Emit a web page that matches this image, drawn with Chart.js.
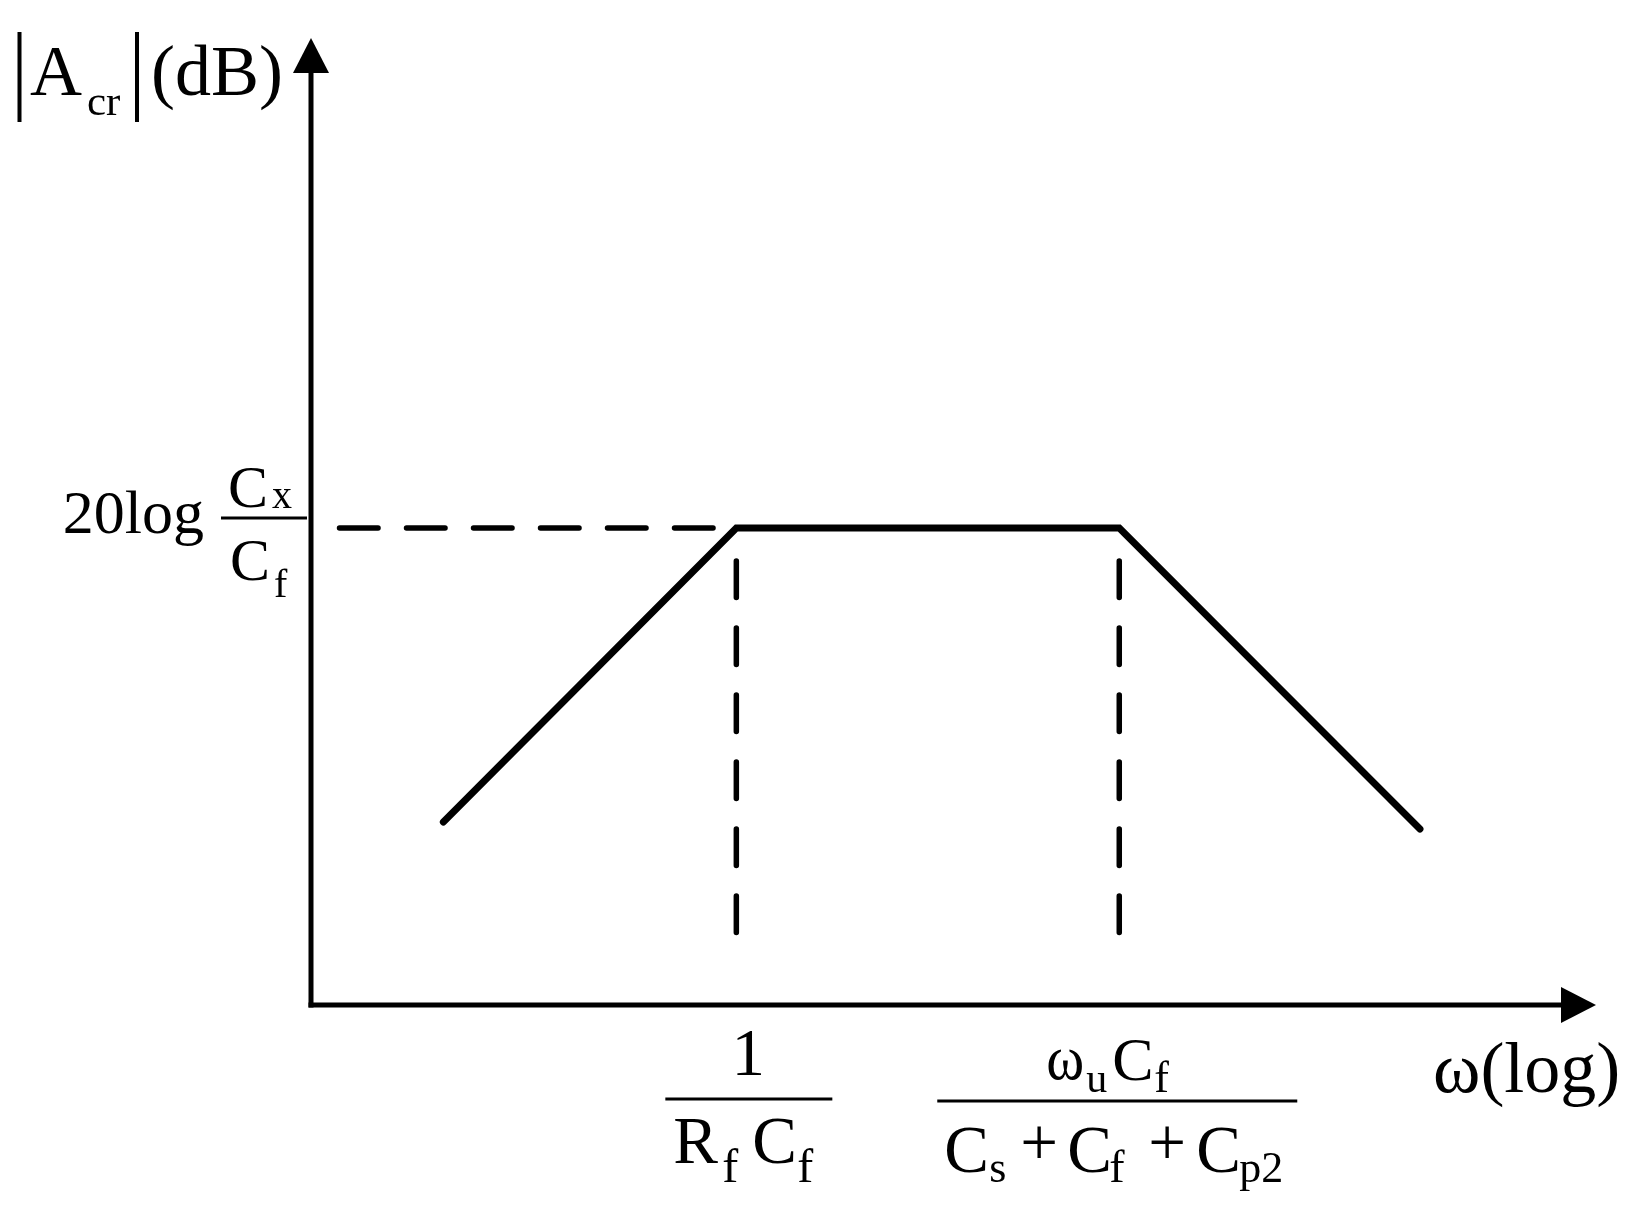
<!DOCTYPE html>
<html>
<head>
<meta charset="utf-8">
<script src="https://cdn.jsdelivr.net/npm/chart.js@4.4.0/dist/chart.umd.min.js"></script>
<style>
  html, body { margin: 0; padding: 0; background: #fff; }
  canvas { display: block; }
</style>
</head>
<body>
<canvas id="bode" width="1637" height="1214"></canvas>
<script>
// asymptotic gain curve: log(omega) position (arbitrary units) and gain (dB, arbitrary units)
const omegaPts = [10.3, 33.1, 62.9, 86.3];
const gainPts = [14.2, 37, 37, 13.65];

// corner frequencies and the plateau level
const cornerOmega = [33.1, 62.9];
const plateauGain = 37;

// where the dashed guide lines start / stop
const guideLeft = 2.22;
const guideBottom = 5.62;
const guideTop = 36.0;

const xMax = 100;
const yMax = 75;

const SERIF = '"Liberation Serif", "Times New Roman", serif';

function txt(ctx, s, size, x, y, align, sx) {
    ctx.font = size + 'px ' + SERIF;
    ctx.textAlign = align || 'left';
    ctx.textBaseline = 'alphabetic';
    if (sx) {
        // squeeze horizontally (used for the narrow omega)
        ctx.save();
        ctx.translate(x, y);
        ctx.scale(sx, 1);
        ctx.fillText(s, 0, 0);
        ctx.restore();
    } else {
        ctx.fillText(s, x, y);
    }
}

function hbar(ctx, x1, x2, y, w) {
    ctx.lineWidth = w;
    ctx.beginPath();
    ctx.moveTo(x1, y);
    ctx.lineTo(x2, y);
    ctx.stroke();
}

// axes with arrows + all the math labels
const bodeDecor = {
    id: 'bodeDecor',
    beforeDatasetsDraw(chart) {
        const ctx = chart.ctx;
        const xs = chart.scales.x, ys = chart.scales.y;
        const x0 = xs.getPixelForValue(0), x1 = xs.getPixelForValue(xMax);
        const y0 = ys.getPixelForValue(0), y1 = ys.getPixelForValue(yMax);

        ctx.save();
        ctx.strokeStyle = '#000';
        ctx.fillStyle = '#000';
        ctx.lineWidth = 5;
        ctx.lineCap = 'butt';

        // y axis
        ctx.beginPath();
        ctx.moveTo(x0, y0 + 2.5);
        ctx.lineTo(x0, y1 + 30);
        ctx.stroke();
        // x axis
        ctx.beginPath();
        ctx.moveTo(x0 - 2.5, y0);
        ctx.lineTo(x1 - 30, y0);
        ctx.stroke();

        // arrow heads
        ctx.beginPath();
        ctx.moveTo(x0, y1);
        ctx.lineTo(x0 - 18, y1 + 35);
        ctx.lineTo(x0 + 18, y1 + 35);
        ctx.closePath();
        ctx.fill();
        ctx.beginPath();
        ctx.moveTo(x1, y0);
        ctx.lineTo(x1 - 35, y0 - 18);
        ctx.lineTo(x1 - 35, y0 + 18);
        ctx.closePath();
        ctx.fill();
        ctx.restore();
    },
    afterDatasetsDraw(chart) {
        const ctx = chart.ctx;
        const xs = chart.scales.x, ys = chart.scales.y;
        ctx.save();
        ctx.fillStyle = '#000';
        ctx.strokeStyle = '#000';
        ctx.lineCap = 'butt';

        // y axis title |A_cr|(dB)
        ctx.lineWidth = 4;
        ctx.beginPath();
        ctx.moveTo(19.5, 32); ctx.lineTo(19.5, 122);
        ctx.moveTo(137, 32); ctx.lineTo(137, 122);
        ctx.stroke();
        txt(ctx, 'A', 72, 30, 95);
        txt(ctx, 'cr', 43, 87, 115);
        txt(ctx, '(dB)', 72, 151, 95);

        // y tick: 20log Cx/Cf
        const Y = ys.getPixelForValue(plateauGain);
        txt(ctx, '20log', 62, 204, Y + 5, 'right');
        hbar(ctx, 221, 307, Y - 10, 3);
        txt(ctx, 'C', 60, 228, Y - 21);
        txt(ctx, 'x', 40, 272, Y - 20);
        txt(ctx, 'C', 60, 230, Y + 52);
        txt(ctx, 'f', 40, 274, Y + 69);

        // x tick 1: 1/(Rf Cf)
        let X = xs.getPixelForValue(cornerOmega[0]);
        txt(ctx, '1', 67, X + 12, 1075, 'center');
        hbar(ctx, X - 71, X + 96, 1099, 3);
        txt(ctx, 'R', 67, X - 63, 1163);
        txt(ctx, 'f', 48, X - 14, 1182);
        txt(ctx, 'C', 67, X + 16, 1163);
        txt(ctx, 'f', 48, X + 61, 1182);

        // x tick 2: wu Cf / (Cs + Cf + Cp2)
        X = xs.getPixelForValue(cornerOmega[1]);
        txt(ctx, '\u03c9', 64, X - 73, 1079, 'left', 0.9);
        txt(ctx, 'u', 42, X - 33, 1092);
        txt(ctx, 'C', 62, X - 7, 1080);
        txt(ctx, 'f', 44, X + 35, 1092);
        hbar(ctx, X - 182, X + 178, 1101, 3);
        txt(ctx, 'C', 67, X - 175, 1172);
        txt(ctx, 's', 44, X - 130, 1182);
        txt(ctx, '+', 67, X - 99, 1165);
        txt(ctx, 'C', 67, X - 52, 1172);
        txt(ctx, 'f', 46, X - 10, 1182);
        txt(ctx, '+', 67, X + 29, 1165);
        txt(ctx, 'C', 67, X + 77, 1172);
        txt(ctx, 'p2', 44, X + 120, 1182);

        // x axis title
        txt(ctx, '\u03c9(log)', 72, 1433, 1092);
        ctx.restore();
    }
};

const curve = omegaPts.map((w, i) => ({ x: w, y: gainPts[i] }));
const hGuide = [{ x: guideLeft, y: plateauGain }, { x: cornerOmega[0], y: plateauGain }];
const vGuides = cornerOmega.map(w => [{ x: w, y: guideBottom }, { x: w, y: guideTop }]);

const dashStyle = {
    borderColor: '#000',
    borderWidth: 5.5,
    borderCapStyle: 'round',
    fill: false,
    pointRadius: 0,
    order: 1
};

const data = {
    datasets: [
        {
            label: 'gain',
            data: curve,
            borderColor: '#000',
            borderWidth: 7,
            borderCapStyle: 'round',
            borderJoinStyle: 'miter',
            fill: false,
            pointRadius: 0,
            order: 0
        },
        Object.assign({ label: 'plateau', data: hGuide, borderDash: [38.5, 28.5] }, dashStyle),
        Object.assign({ label: 'corner1', data: vGuides[0], borderDash: [36.5, 30.5] }, dashStyle),
        Object.assign({ label: 'corner2', data: vGuides[1], borderDash: [36.5, 30.5] }, dashStyle)
    ]
};

const config = {
    type: 'line',
    data: data,
    options: {
        responsive: false,
        animation: false,
        events: [],
        layout: {
            padding: { left: 311, right: 41, top: 38, bottom: 209 }
        },
        plugins: {
            legend: { display: false },
            tooltip: { enabled: false }
        },
        scales: {
            x: { type: 'linear', min: 0, max: xMax, display: false },
            y: { type: 'linear', min: 0, max: yMax, display: false }
        }
    },
    plugins: [bodeDecor]
};

new Chart(document.getElementById('bode'), config);
</script>
</body>
</html>
